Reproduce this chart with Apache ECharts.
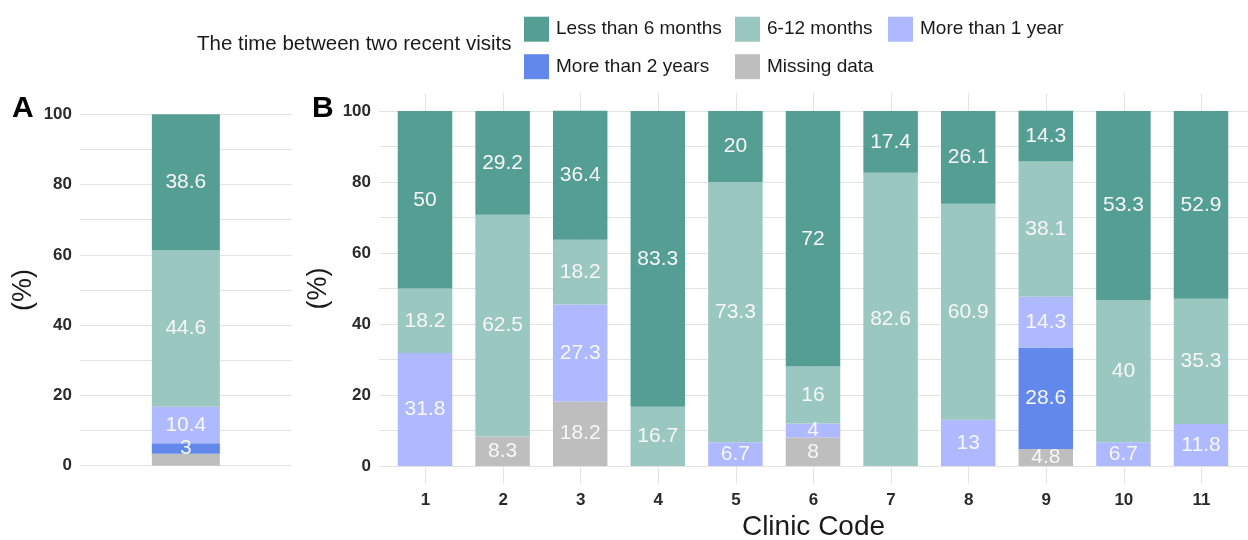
<!DOCTYPE html>
<html><head><meta charset="utf-8">
<script src="https://cdn.jsdelivr.net/npm/echarts@6/dist/echarts.min.js"></script>
<style>html,body{margin:0;padding:0;background:#fff}#c{width:1248px;height:540px}</style>
</head><body><div id="c"></div>
<script>
// ---- data ----
const groups = ['Less than 6 months', '6-12 months', 'More than 1 year', 'More than 2 years', 'Missing data'];
const clinics = ['1', '2', '3', '4', '5', '6', '7', '8', '9', '10', '11'];
const lessThan6 = [50, 29.2, 36.4, 83.3, 20, 72, 17.4, 26.1, 14.3, 53.3, 52.9];
const m6to12 = [18.2, 62.5, 18.2, 16.7, 73.3, 16, 82.6, 60.9, 38.1, 40, 35.3];
const moreThan1y = [31.8, 0, 27.3, 0, 6.7, 4, 0, 13, 14.3, 6.7, 11.8];
const moreThan2y = [0, 0, 0, 0, 0, 0, 0, 0, 28.6, 0, 0];
const missing = [0, 8.3, 18.2, 0, 0, 8, 0, 0, 4.8, 0, 0];
// overall (panel A), in the order of groups
const overall = [38.6, 44.6, 10.4, 3, 3.4];
const overallShowLabel = [true, true, true, true, false];
const yLabelTicks = [0, 20, 40, 60, 80, 100];
const yGridTicks = [0, 10, 20, 30, 40, 50, 60, 70, 80, 90, 100];

// ---- styles ----
const FONT = "'Liberation Sans', Arial, sans-serif";
const colors = {
  'Less than 6 months': '#559e94',
  '6-12 months': '#9ac7bf',
  'More than 1 year': '#afb9ff',
  'More than 2 years': '#6188ea',
  'Missing data': '#bebebe'
};
const bByGroup = {
  'Less than 6 months': lessThan6,
  '6-12 months': m6to12,
  'More than 1 year': moreThan1y,
  'More than 2 years': moreThan2y,
  'Missing data': missing
};
const stackOrder = ['Missing data', 'More than 2 years', 'More than 1 year', '6-12 months', 'Less than 6 months'];
const gridLineColor = '#e3e3e3';
const tickLabel = { fontFamily: FONT, fontSize: 17, fontWeight: 'bold', color: '#2b2b2b' };
const barLabel = { show: true, position: 'inside', color: '#f7f7f7', fontFamily: FONT, fontSize: 21 };

const series = [];
stackOrder.forEach(name => {
  const gi = groups.indexOf(name);
  series.push({
    name, type: 'bar', stack: 'A', xAxisIndex: 0, yAxisIndex: 0,
    barWidth: 68, itemStyle: { color: colors[name] },
    label: Object.assign({}, barLabel, { show: overallShowLabel[gi] }),
    data: [overall[gi]]
  });
});
stackOrder.forEach(name => {
  const vals = bByGroup[name];
  series.push({
    name, type: 'bar', stack: 'B', xAxisIndex: 2, yAxisIndex: 2,
    barWidth: 54.5, itemStyle: { color: colors[name] },
    label: Object.assign({}, barLabel, { formatter: p => (p.value > 0 ? String(p.value) : '') }),
    data: vals.slice()
  });
});

const legendBase = {
  orient: 'vertical', top: 11.7, itemWidth: 25, itemHeight: 25, itemGap: 12.5,
  selectedMode: false, icon: 'rect',
  textStyle: { fontFamily: FONT, fontSize: 19, color: '#1a1a1a', padding: [0, 0, 0, 2] }
};

const BTOP = 93.25, BH = 390.5;
const option = {
  animation: false,
  color: groups.map(g => colors[g]),
  title: [
    { text: 'The time between two recent visits', left: 192, top: 29,
      textStyle: { fontFamily: FONT, fontSize: 20.5, fontWeight: 'normal', color: '#1a1a1a' } },
    { text: 'A', left: 7, top: 89, textStyle: { fontFamily: FONT, fontSize: 30, fontWeight: 'bold', color: '#000' } },
    { text: 'B', left: 307, top: 89, textStyle: { fontFamily: FONT, fontSize: 30, fontWeight: 'bold', color: '#000' } }
  ],
  legend: [
    Object.assign({}, legendBase, { left: 519, data: ['Less than 6 months', 'More than 2 years'] }),
    Object.assign({}, legendBase, { left: 730, data: ['6-12 months', 'Missing data'] }),
    Object.assign({}, legendBase, { left: 883, data: ['More than 1 year'] })
  ],
  grid: [
    { left: 80, top: 114.3, width: 211.7, height: 351.4, containLabel: false, outerBoundsMode: 'none' },
    { left: 379, top: BTOP, right: 0, height: BH, containLabel: false, outerBoundsMode: 'none' },
    { left: 386.2, top: BTOP, width: 853.6, height: BH, containLabel: false, outerBoundsMode: 'none' }
  ],
  xAxis: [
    { type: 'category', gridIndex: 0, data: ['All'], axisLine: { show: false }, axisTick: { show: false },
      axisLabel: { show: false }, splitLine: { show: false } },
    // panel B background: grid lines, tick labels and title
    { type: 'value', gridIndex: 1, min: 0.4, max: 11.6,
      axisLine: { show: false },
      axisTick: { show: false, customValues: clinics.map(Number) },
      axisLabel: Object.assign({ customValues: clinics.map(Number), margin: 8,
        formatter: v => clinics[Math.round(v) - 1] }, tickLabel),
      splitLine: { show: true, lineStyle: { color: gridLineColor, width: 1 } },
      name: 'Clinic Code', nameLocation: 'middle', nameGap: 30,
      nameTextStyle: { fontFamily: FONT, fontSize: 28, color: '#1a1a1a' } },
    // panel B bars
    { type: 'category', gridIndex: 2, data: clinics, show: false }
  ],
  yAxis: [
    { type: 'value', gridIndex: 0, min: 0, max: 100, interval: 10,
      axisLine: { show: false }, axisTick: { show: false },
      axisLabel: Object.assign({ margin: 8, formatter: v => (yLabelTicks.indexOf(v) >= 0 ? String(v) : '') }, tickLabel),
      splitLine: { show: true, lineStyle: { color: gridLineColor, width: 1 } },
      name: '(%)', nameLocation: 'middle', nameRotate: 90, nameGap: 43,
      nameTextStyle: { fontFamily: FONT, fontSize: 27, color: '#1a1a1a' } },
    { type: 'value', gridIndex: 1, min: -5, max: 105,
      axisLine: { show: false },
      axisTick: { show: false, customValues: yGridTicks },
      axisLabel: Object.assign({ customValues: yLabelTicks, margin: 8 }, tickLabel),
      splitLine: { show: true, lineStyle: { color: gridLineColor, width: 1 } },
      name: '(%)', nameLocation: 'middle', nameRotate: 90, nameGap: 37,
      nameTextStyle: { fontFamily: FONT, fontSize: 27, color: '#1a1a1a' } },
    { type: 'value', gridIndex: 2, min: -5, max: 105, show: false, splitLine: { show: false } }
  ],
  series
};
const chart = echarts.init(document.getElementById('c'), null, { renderer: 'canvas' });
chart.setOption(option);
</script>
</body></html>
